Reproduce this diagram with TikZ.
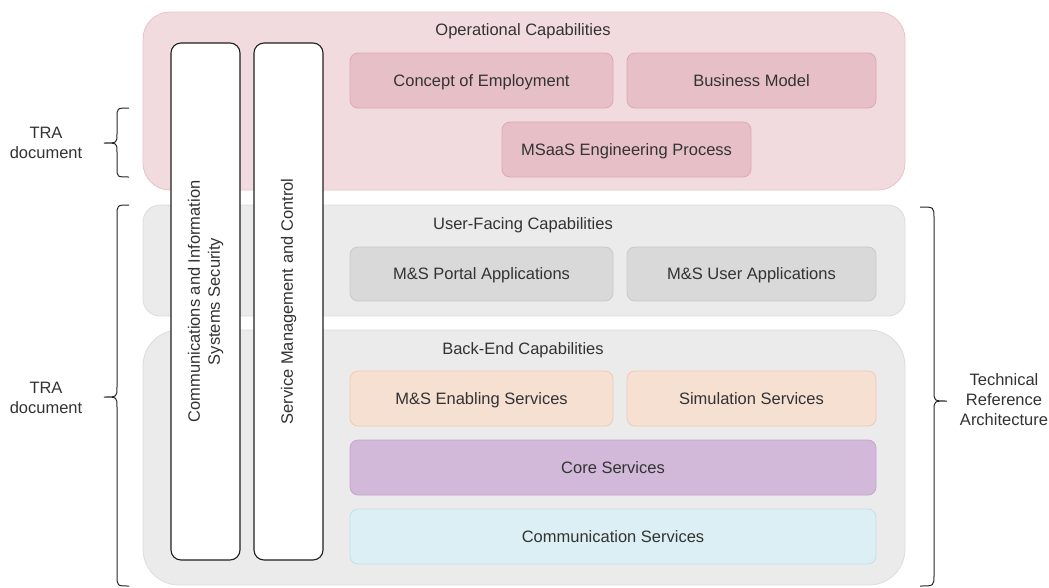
\documentclass[tikz,border=0pt]{standalone}
\usepackage{fontspec}
\setmainfont{Liberation Sans}
\newcommand\diafont{\fontsize{16.5}{20}\selectfont}
\definecolor{txt}{HTML}{333333}
\definecolor{opfill}{HTML}{F1DBDE}
\definecolor{opdraw}{HTML}{E6C3C8}
\definecolor{pinkfill}{HTML}{E7C0C7}
\definecolor{pinkdraw}{HTML}{DBA9B2}
\definecolor{grayouter}{HTML}{EBEBEB}
\definecolor{grayouterdraw}{HTML}{DCDCDC}
\definecolor{grayfill}{HTML}{D9D9D9}
\definecolor{graydraw}{HTML}{C9C9C9}
\definecolor{orfill}{HTML}{F5E0D2}
\definecolor{ordraw}{HTML}{F0CAAF}
\definecolor{pufill}{HTML}{D2B9DA}
\definecolor{pudraw}{HTML}{C4A5CE}
\definecolor{blfill}{HTML}{DCEFF4}
\definecolor{bldraw}{HTML}{C0E0EA}
\tikzset{
  x=1pt, y=-1pt,
  every node/.style={font=\diafont, text=txt, align=center, inner sep=0pt},
  oneline/.style={text height=11.8pt, text depth=0pt},
  layer/.style={line width=0.8pt},
  inbox/.style={oneline, rounded corners=8pt, line width=0.8pt, minimum height=55pt},
  pinkbox/.style={inbox, fill=pinkfill, draw=pinkdraw},
  graybox/.style={inbox, fill=grayfill, draw=graydraw},
  orangebox/.style={inbox, fill=orfill, draw=ordraw},
  purplebox/.style={inbox, fill=pufill, draw=pudraw},
  bluebox/.style={inbox, fill=blfill, draw=bldraw},
  vbox/.style={rotate=90, rounded corners=10pt, fill=white, draw=black!88,
    line width=1.1pt, minimum width=517pt, minimum height=69pt},
  brace/.style={draw=black!85, line width=1pt},
}
\begin{document}
\begin{tikzpicture}
\useasboundingbox (0,0) rectangle (1049,587);

% capability layers
\node[layer, fill=opfill, draw=opdraw, rounded corners=27pt,
  minimum width=762pt, minimum height=178pt] (op) at (524,101) {};
\node[layer, fill=grayouter, draw=grayouterdraw, rounded corners=17pt,
  minimum width=762pt, minimum height=111pt] (uf) at (524,260.5) {};
\node[layer, fill=grayouter, draw=grayouterdraw, rounded corners=36pt,
  minimum width=762pt, minimum height=255pt] (be) at (524,457.5) {};

\node[oneline] (optitle) at (523,30) {Operational Capabilities};
\node[oneline] (uftitle) at (523,224) {User-Facing Capabilities};
\node[oneline] (betitle) at (523,349) {Back-End Capabilities};

% operational capabilities
\node[pinkbox, minimum width=263pt] (coe) at (481.5,80.5) {Concept of Employment};
\node[pinkbox, minimum width=249pt] (bm) at (751.5,80.5) {Business Model};
\node[pinkbox, minimum width=249pt] (mep) at (626.5,149.5) {MSaaS Engineering Process};

% user-facing capabilities
\node[graybox, minimum width=263pt, minimum height=54pt] (portal) at (481.5,274) {M\&S Portal Applications};
\node[graybox, minimum width=249pt, minimum height=54pt] (userapp) at (751.5,274) {M\&S User Applications};

% back-end capabilities
\node[orangebox, minimum width=263pt] (enabling) at (481.5,398.5) {M\&S Enabling Services};
\node[orangebox, minimum width=249pt] (sim) at (751.5,398.5) {Simulation Services};
\node[purplebox, minimum width=526pt] (core) at (613,467.5) {Core Services};
\node[bluebox, minimum width=526pt] (comm) at (613,536.5) {Communication Services};

% cross-cutting columns
\node[vbox] (cis) at (205.5,301.5) {Communications and Information\\Systems Security};
\node[vbox] (smc) at (288.5,301.5) {Service Management and Control};

% braces
\draw[brace] (129,108) .. controls (117,108) .. (117,118) -- (117,134)
  .. controls (117,143) .. (104,143) .. controls (117,143) .. (117,152)
  -- (117,168) .. controls (117,177) .. (129,177);
\draw[brace] (129,205) .. controls (117,205) .. (117,216) -- (117,387)
  .. controls (117,397) .. (104,397) .. controls (117,397) .. (117,407)
  -- (117,575) .. controls (117,586) .. (129,586);
\draw[brace] (920,207) .. controls (934,207) .. (934,218) -- (934,391)
  .. controls (934,401) .. (947,401) .. controls (934,401) .. (934,411)
  -- (934,575) .. controls (934,586) .. (920,586);

\node (tra1) at (46,143) {TRA\\document};
\node (tra2) at (46,398) {TRA\\document};
\node (tra3) at (1004,400) {Technical\\Reference\\Architecture};
\end{tikzpicture}
\end{document}
